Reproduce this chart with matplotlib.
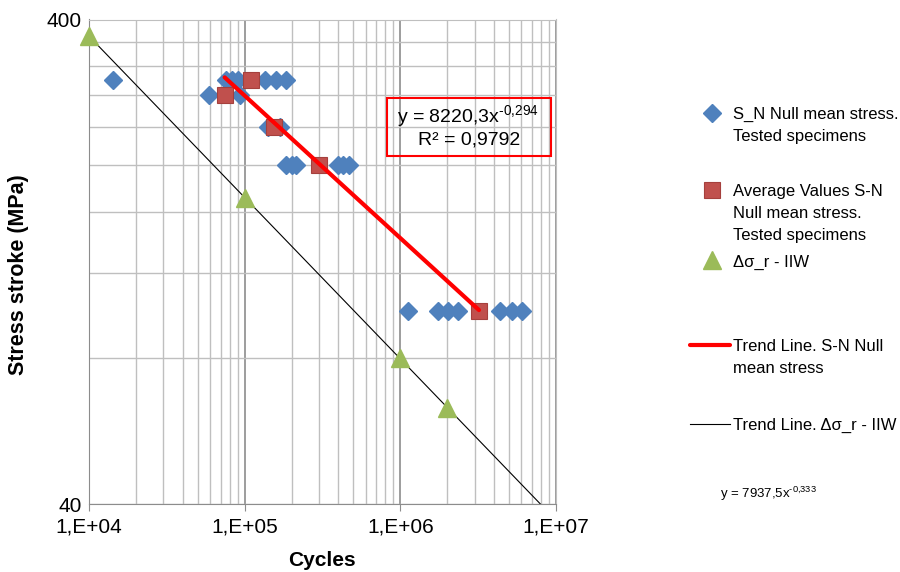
import matplotlib
matplotlib.use("Agg")
import matplotlib.pyplot as plt
import numpy as np
from matplotlib.patches import Rectangle
from matplotlib.ticker import FixedLocator, NullFormatter, FuncFormatter

plt.rcParams['font.family'] = ['Liberation Sans', 'DejaVu Sans']
plt.rcParams['mathtext.fontset'] = 'custom'
plt.rcParams['mathtext.rm'] = 'Liberation Sans'
plt.rcParams['mathtext.it'] = 'Liberation Sans:italic'

# tested specimens (cycles, stress range MPa)
sn_cycles = [1.43e4, 7.6e4, 8.3e4, 9.0e4, 1.35e5, 1.6e5, 1.85e5,
             5.93e4, 9.33e4,
             1.41e5, 1.69e5,
             1.85e5, 2.0e5, 2.15e5, 3.95e5, 4.3e5, 4.7e5,
             1.125e6, 1.75e6, 2.03e6, 2.36e6, 4.37e6, 5.19e6, 6.01e6]
sn_stress = [300, 300, 300, 300, 300, 300, 300,
             280, 280,
             240, 240,
             200, 200, 200, 200, 200, 200,
             100, 100, 100, 100, 100, 100, 100]

# average values per stress level
avg_cycles = [7.44e4, 1.10e5, 1.55e5, 3.0e5, 3.2e6]
avg_stress = [280, 300, 240, 200, 100]

# IIW design curve points
iiw_cycles = [1e4, 1e5, 1e6, 2e6]
iiw_stress = [370, 171, 80, 63]

# power-law trend lines y = a * x^b
sn_fit_a, sn_fit_b = 8220.3, -0.294
sn_fit_range = [7.44e4, 3.2e6]
iiw_fit_a, iiw_fit_b = 7937.5, -0.333
iiw_fit_range = [1e4, 1e7]

blue = "#4F81BD"
red_sq = "#C0504D"
green = "#9BBB59"
grid_c = "#BFBFBF"

fig = plt.figure(figsize=(9, 5.72), dpi=100)
ax = fig.add_axes([89 / 900, 1 - 504 / 572, (556 - 89) / 900, (504 - 19.5) / 572])
ax.set_xscale("log")
ax.set_yscale("log")
ax.set_xlim(1e4, 1e7)
ax.set_ylim(40, 400)

# gridlines
ax.xaxis.set_major_locator(FixedLocator([1e4, 1e5, 1e6, 1e7]))
ax.xaxis.set_minor_locator(FixedLocator([m * 10 ** e for e in (4, 5, 6) for m in range(2, 10)]))
ax.yaxis.set_major_locator(FixedLocator([40, 400]))
ax.yaxis.set_minor_locator(FixedLocator([80, 120, 160, 200, 240, 280, 320, 360]))
ax.xaxis.set_minor_formatter(NullFormatter())
ax.yaxis.set_minor_formatter(NullFormatter())
ax.xaxis.set_major_formatter(FuncFormatter(lambda v, p: "1,E+%02d" % round(np.log10(v))))
ax.yaxis.set_major_formatter(FuncFormatter(lambda v, p: "%d" % v))
ax.grid(True, which="major", axis="x", color="#8C8C8C", linewidth=1.2)
ax.grid(True, which="minor", axis="x", color=grid_c, linewidth=1.0)
ax.grid(True, which="both", axis="y", color=grid_c, linewidth=1.0)
ax.tick_params(which="major", direction="out", color="#8C8C8C", labelsize=15)
ax.tick_params(axis="x", which="major", length=5, pad=5)
ax.tick_params(axis="y", which="major", length=0, pad=5)
ax.tick_params(which="minor", length=0)
for s in ["left", "bottom"]:
    ax.spines[s].set_color("#8C8C8C")
for s in ["top", "right"]:
    ax.spines[s].set_color(grid_c)

xs = np.array(iiw_fit_range)
ax.plot(xs, iiw_fit_a * xs ** iiw_fit_b, color="black", linewidth=0.8, zorder=2)
ax.plot(iiw_cycles, iiw_stress, linestyle="none", marker="^", markersize=13,
        color=green, zorder=3, clip_on=False)
ax.plot(sn_cycles, sn_stress, linestyle="none", marker="D", markersize=9,
        color=blue, zorder=4)
ax.plot(avg_cycles, avg_stress, linestyle="none", marker="s", markersize=11,
        markerfacecolor=red_sq, markeredgecolor="#A5403D", markeredgewidth=0.8, zorder=5)
xs = np.array(sn_fit_range)
ax.plot(xs, sn_fit_a * xs ** sn_fit_b, color="#FF0000", linewidth=3, zorder=6,
        solid_capstyle="round")

# overlay in pixel coordinates for labels, equation box and legend
ov = fig.add_axes([0, 0, 1, 1], zorder=10)
ov.set_xlim(0, 900)
ov.set_ylim(572, 0)
ov.axis("off")

ov.text(322, 560, "Cycles", fontsize=15, fontweight="bold", ha="center", va="center")
ov.text(19, 275, "Stress stroke (MPa)", fontsize=15.5, fontweight="bold",
        ha="center", va="center", rotation=90)

ov.add_patch(Rectangle((387, 98), 164, 58, fill=False, edgecolor="#FF0000", linewidth=1.5))
ov.text(468, 116, "y = 8220,3x$^{\u2010 0{,}294}$", fontsize=14, ha="center", va="center")
ov.text(469, 140, "R² = 0,9792", fontsize=14, ha="center", va="center")

lx, tx = 712, 733
fs = 12
ls = 1.6
off = 6
ov.plot([lx], [113], marker="D", markersize=9, color=blue, linestyle="none")
ov.text(tx, 113 - off, "S_N Null mean stress.\nTested specimens", fontsize=fs,
        va="top", ha="left", linespacing=ls)
ov.plot([lx], [190], marker="s", markersize=11, markerfacecolor=red_sq,
        markeredgecolor="#A5403D", markeredgewidth=0.8, linestyle="none")
ov.text(tx, 190 - off, "Average Values S-N\nNull mean stress.\nTested specimens", fontsize=fs,
        va="top", ha="left", linespacing=ls)
ov.plot([lx], [260], marker="^", markersize=13, color=green, linestyle="none")
ov.text(tx, 261 - off, "Δσ_r - IIW", fontsize=fs, va="top", ha="left")
ov.plot([690, 730], [345, 345], color="#FF0000", linewidth=3, solid_capstyle="round")
ov.text(tx, 345 - off, "Trend Line. S-N Null\nmean stress", fontsize=fs, va="top", ha="left",
        linespacing=ls)
ov.plot([690, 730], [424, 424], color="black", linewidth=0.8)
ov.text(tx, 424 - off, "Trend Line. Δσ_r - IIW", fontsize=fs, va="top", ha="left")
ov.text(720, 494, "y = 7937,5x$^{\u2010 0{,}333}$", fontsize=9.5, va="center", ha="left")

fig.savefig("out.png", dpi=100)
